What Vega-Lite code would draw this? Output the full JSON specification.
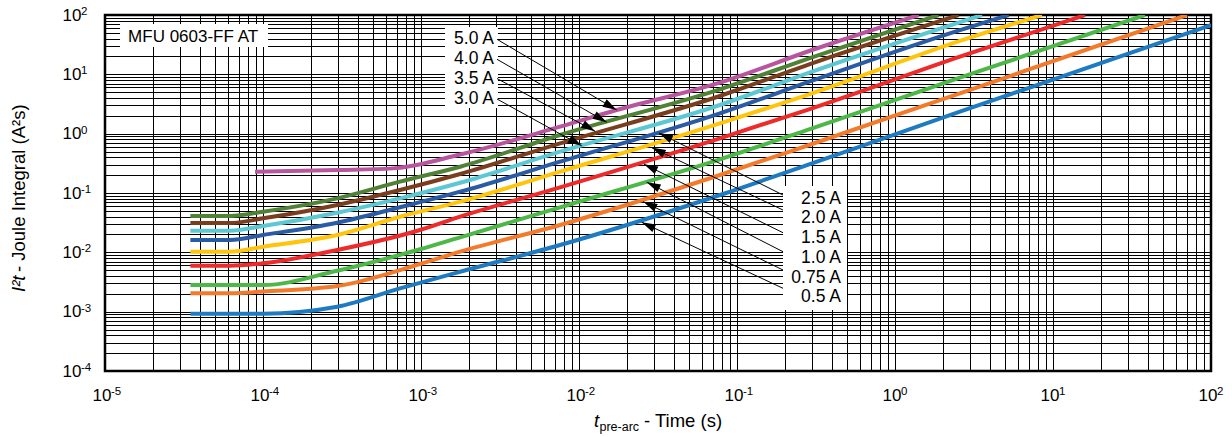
{
  "$schema": "https://vega.github.io/schema/vega-lite/v6.json",
  "width": 1106,
  "height": 356,
  "autosize": {"type": "none"},
  "padding": {"left": 105, "top": 15, "right": 21, "bottom": 66},
  "background": "#ffffff",
  "config": {"view": {"stroke": "#000000", "strokeWidth": 2.5}},
  "datasets": {
    "curves": [
      {"current": "0.5 A", "t": 3.47e-5, "v": 0.000925}, {"current": "0.5 A", "t": 1e-4, "v": 0.000925}, {"current": "0.5 A", "t": 2.95e-4, "v": 0.00121}, {"current": "0.5 A", "t": 7.36e-4, "v": 0.00247}, {"current": "0.5 A", "t": 0.00177, "v": 0.00471}, {"current": "0.5 A", "t": 0.00759, "v": 0.01327}, {"current": "0.5 A", "t": 0.078, "v": 0.0925}, {"current": "0.5 A", "t": 0.2985, "v": 0.316}, {"current": "0.5 A", "t": 2.576, "v": 2.344}, {"current": "0.5 A", "t": 100, "v": 67.6},
      {"current": "0.75 A", "t": 3.47e-5, "v": 0.00204}, {"current": "0.75 A", "t": 6.17e-5, "v": 0.00204}, {"current": "0.75 A", "t": 1e-4, "v": 0.00219}, {"current": "0.75 A", "t": 2.95e-4, "v": 0.0027}, {"current": "0.75 A", "t": 9.86e-4, "v": 0.00635}, {"current": "0.75 A", "t": 0.00177, "v": 0.01026}, {"current": "0.75 A", "t": 0.00759, "v": 0.0289}, {"current": "0.75 A", "t": 0.078, "v": 0.201}, {"current": "0.75 A", "t": 0.2985, "v": 0.67}, {"current": "0.75 A", "t": 2.576, "v": 4.79}, {"current": "0.75 A", "t": 70.5, "v": 100},
      {"current": "1.0 A", "t": 3.47e-5, "v": 0.00281}, {"current": "1.0 A", "t": 1e-4, "v": 0.00281}, {"current": "1.0 A", "t": 2.95e-4, "v": 0.0049}, {"current": "1.0 A", "t": 9.86e-4, "v": 0.01125}, {"current": "1.0 A", "t": 0.00177, "v": 0.0179}, {"current": "1.0 A", "t": 0.00759, "v": 0.0574}, {"current": "1.0 A", "t": 0.078, "v": 0.37}, {"current": "1.0 A", "t": 0.2985, "v": 1.23}, {"current": "1.0 A", "t": 2.576, "v": 8.77}, {"current": "1.0 A", "t": 38.2, "v": 100},
      {"current": "1.5 A", "t": 3.47e-5, "v": 0.00596}, {"current": "1.5 A", "t": 6.17e-5, "v": 0.00596}, {"current": "1.5 A", "t": 1e-4, "v": 0.00653}, {"current": "1.5 A", "t": 2.95e-4, "v": 0.01094}, {"current": "1.5 A", "t": 9.86e-4, "v": 0.02377}, {"current": "1.5 A", "t": 0.00177, "v": 0.0399}, {"current": "1.5 A", "t": 0.00759, "v": 0.1247}, {"current": "1.5 A", "t": 0.078, "v": 0.836}, {"current": "1.5 A", "t": 0.2985, "v": 2.67}, {"current": "1.5 A", "t": 2.576, "v": 19.86}, {"current": "1.5 A", "t": 15.96, "v": 100},
      {"current": "2.0 A", "t": 3.47e-5, "v": 0.01026}, {"current": "2.0 A", "t": 6.17e-5, "v": 0.01026}, {"current": "2.0 A", "t": 1e-4, "v": 0.01245}, {"current": "2.0 A", "t": 2.95e-4, "v": 0.0196}, {"current": "2.0 A", "t": 7.36e-4, "v": 0.0398}, {"current": "2.0 A", "t": 0.00177, "v": 0.0714}, {"current": "2.0 A", "t": 0.00759, "v": 0.2286}, {"current": "2.0 A", "t": 0.078, "v": 1.496}, {"current": "2.0 A", "t": 0.2985, "v": 4.79}, {"current": "2.0 A", "t": 2.576, "v": 36.5}, {"current": "2.0 A", "t": 8.51, "v": 100},
      {"current": "2.5 A", "t": 3.47e-5, "v": 0.01614}, {"current": "2.5 A", "t": 6.17e-5, "v": 0.01614}, {"current": "2.5 A", "t": 1e-4, "v": 0.0196}, {"current": "2.5 A", "t": 2.95e-4, "v": 0.0316}, {"current": "2.5 A", "t": 7.36e-4, "v": 0.0575}, {"current": "2.5 A", "t": 0.00177, "v": 0.1052}, {"current": "2.5 A", "t": 0.00759, "v": 0.337}, {"current": "2.5 A", "t": 0.078, "v": 2.203}, {"current": "2.5 A", "t": 0.2985, "v": 7.82}, {"current": "2.5 A", "t": 2.576, "v": 55.8}, {"current": "2.5 A", "t": 5.25, "v": 100},
      {"current": "3.0 A", "t": 3.47e-5, "v": 0.02317}, {"current": "3.0 A", "t": 6.17e-5, "v": 0.02317}, {"current": "3.0 A", "t": 1e-4, "v": 0.0278}, {"current": "3.0 A", "t": 2.95e-4, "v": 0.0466}, {"current": "3.0 A", "t": 7.36e-4, "v": 0.0813}, {"current": "3.0 A", "t": 0.00177, "v": 0.149}, {"current": "3.0 A", "t": 0.00759, "v": 0.4966}, {"current": "3.0 A", "t": 0.078, "v": 3.04}, {"current": "3.0 A", "t": 0.2985, "v": 11.09}, {"current": "3.0 A", "t": 3.556, "v": 100},
      {"current": "3.5 A", "t": 3.47e-5, "v": 0.0312}, {"current": "3.5 A", "t": 6.17e-5, "v": 0.0312}, {"current": "3.5 A", "t": 1e-4, "v": 0.0374}, {"current": "3.5 A", "t": 2.95e-4, "v": 0.0628}, {"current": "3.5 A", "t": 7.36e-4, "v": 0.1122}, {"current": "3.5 A", "t": 0.00177, "v": 0.209}, {"current": "3.5 A", "t": 0.00759, "v": 0.687}, {"current": "3.5 A", "t": 0.078, "v": 4.315}, {"current": "3.5 A", "t": 0.2985, "v": 15.35}, {"current": "3.5 A", "t": 2.53, "v": 100},
      {"current": "4.0 A", "t": 3.47e-5, "v": 0.0409}, {"current": "4.0 A", "t": 6.17e-5, "v": 0.0409}, {"current": "4.0 A", "t": 1e-4, "v": 0.0484}, {"current": "4.0 A", "t": 2.95e-4, "v": 0.0813}, {"current": "4.0 A", "t": 7.36e-4, "v": 0.1552}, {"current": "4.0 A", "t": 0.00177, "v": 0.2773}, {"current": "4.0 A", "t": 0.00759, "v": 0.9506}, {"current": "4.0 A", "t": 0.078, "v": 5.585}, {"current": "4.0 A", "t": 0.2985, "v": 19.36}, {"current": "4.0 A", "t": 1.888, "v": 100},
      {"current": "5.0 A", "t": 8.9e-5, "v": 0.2286}, {"current": "5.0 A", "t": 2.95e-4, "v": 0.2438}, {"current": "5.0 A", "t": 6.65e-4, "v": 0.26}, {"current": "5.0 A", "t": 0.00177, "v": 0.445}, {"current": "5.0 A", "t": 0.00759, "v": 1.312}, {"current": "5.0 A", "t": 0.0173, "v": 2.506}, {"current": "5.0 A", "t": 0.078, "v": 7.23}, {"current": "5.0 A", "t": 0.2985, "v": 25.7}, {"current": "5.0 A", "t": 1.413, "v": 100}
    ],
    "boxes": [
      {"t": 1.245e-5, "t2": 1.076e-4, "v": 70.5, "v2": 28.9},
      {"t": 0.001419, "t2": 0.00307, "v": 62.8, "v2": 2.708},
      {"t": 0.1955, "t2": 0.4968, "v": 0.1312, "v2": 0.001067}
    ],
    "leftArrows": [
      {"label": "5.0 A", "t": 0.003027, "v": 38.95, "t2": 0.01732, "v2": 2.506},
      {"label": "4.0 A", "t": 0.003027, "v": 17.92, "t2": 0.01497, "v2": 1.561},
      {"label": "3.5 A", "t": 0.003027, "v": 8.505, "t2": 0.01263, "v2": 1.1005},
      {"label": "3.0 A", "t": 0.003027, "v": 3.84, "t2": 0.0104, "v2": 0.6245}
    ],
    "rightArrows": [
      {"label": "2.5 A", "t": 0.1955, "v": 0.09253, "t2": 0.03209, "v2": 1.026},
      {"label": "2.0 A", "t": 0.1955, "v": 0.05169, "t2": 0.02884, "v2": 0.5823},
      {"label": "1.5 A", "t": 0.1955, "v": 0.02142, "t2": 0.02578, "v2": 0.3058},
      {"label": "1.0 A", "t": 0.1955, "v": 0.01025, "t2": 0.02683, "v2": 0.1521},
      {"label": "0.75 A", "t": 0.1955, "v": 0.005038, "t2": 0.02553, "v2": 0.07134},
      {"label": "0.5 A", "t": 0.1955, "v": 0.002476, "t2": 0.02493, "v2": 0.03219}
    ],
    "leftLabels": [
      {"label": "5.0 A", "t": 0.002897, "v": 39.4},
      {"label": "4.0 A", "t": 0.002897, "v": 18.13},
      {"label": "3.5 A", "t": 0.002897, "v": 8.505},
      {"label": "3.0 A", "t": 0.002897, "v": 3.84}
    ],
    "rightLabels": [
      {"label": "2.5 A", "t": 0.455, "v": 0.07923},
      {"label": "2.0 A", "t": 0.455, "v": 0.03747},
      {"label": "1.5 A", "t": 0.455, "v": 0.01744},
      {"label": "1.0 A", "t": 0.455, "v": 0.00809},
      {"label": "0.75 A", "t": 0.455, "v": 0.003765},
      {"label": "0.5 A", "t": 0.455, "v": 0.001767}
    ],
    "xDecades": [
      {"t": 0.00001, "v": 3.94e-5, "exp": "-5"}, {"t": 0.0001, "v": 3.94e-5, "exp": "-4"}, {"t": 0.001, "v": 3.94e-5, "exp": "-3"}, {"t": 0.01, "v": 3.94e-5, "exp": "-2"},
      {"t": 0.1, "v": 3.94e-5, "exp": "-1"}, {"t": 1, "v": 3.94e-5, "exp": "0"}, {"t": 10, "v": 3.94e-5, "exp": "1"}, {"t": 100, "v": 3.94e-5, "exp": "2"}
    ],
    "yDecades": [
      {"t": 7.05e-6, "v": 0.0001, "exp": "-4"}, {"t": 7.05e-6, "v": 0.001, "exp": "-3"}, {"t": 7.05e-6, "v": 0.01, "exp": "-2"}, {"t": 7.05e-6, "v": 0.1, "exp": "-1"},
      {"t": 7.05e-6, "v": 1, "exp": "0"}, {"t": 7.05e-6, "v": 10, "exp": "1"}, {"t": 7.05e-6, "v": 100, "exp": "2"}
    ],
    "part": [{"label": "MFU 0603-FF AT", "t": 1.4e-5, "v": 42.5}],
    "xTitleT": [{"label": "t", "t": 0.012445, "v": 1.138e-5}],
    "xTitleSub": [{"label": "pre-arc", "t": 0.013478, "v": 9.745e-6}],
    "xTitleRest": [{"label": "- Time (s)", "t": 0.02578, "v": 1.138e-5}],
    "yTitleA": [{"label": "I²t", "t": 3.117e-6, "v": 0.002145}],
    "yTitleB": [{"label": "- Joule Integral (A²s)", "t": 3.117e-6, "v": 0.00466}]
  },
  "encoding": {
    "x": {
      "field": "t", "type": "quantitative",
      "scale": {"type": "log", "domain": [0.00001, 100], "nice": false},
      "axis": {
        "values": [0.00001,0.00002,0.00003,0.00004,0.00005,0.00006,0.00007,0.00008,0.00009,0.0001,0.0002,0.0003,0.0004,0.0005,0.0006,0.0007,0.0008,0.0009,0.001,0.002,0.003,0.004,0.005,0.006,0.007,0.008,0.009,0.01,0.02,0.03,0.04,0.05,0.06,0.07,0.08,0.09,0.1,0.2,0.3,0.4,0.5,0.6,0.7,0.8,0.9,1,2,3,4,5,6,7,8,9,10,20,30,40,50,60,70,80,90,100],
        "labelExpr": "abs(log(datum.value)/LN10 - round(log(datum.value)/LN10)) < 0.001 ? '10' : ''",
        "labelOverlap": false, "labelFlush": false, "labelBound": false,
        "labelAlign": "right", "labelOffset": 6, "labelBaseline": "alphabetic",
        "ticks": false, "tickSize": 0, "domain": false,
        "grid": true, "gridColor": "#000000", "gridOpacity": 1, "gridWidth": 1,
        "labelFont": "Liberation Sans", "labelFontSize": 17, "labelColor": "#000000",
        "labelPadding": 29, "title": null
      }
    },
    "y": {
      "field": "v", "type": "quantitative",
      "scale": {"type": "log", "domain": [0.0001, 100], "nice": false},
      "axis": {
        "values": [0.0001,0.0002,0.0003,0.0004,0.0005,0.0006,0.0007,0.0008,0.0009,0.001,0.002,0.003,0.004,0.005,0.006,0.007,0.008,0.009,0.01,0.02,0.03,0.04,0.05,0.06,0.07,0.08,0.09,0.1,0.2,0.3,0.4,0.5,0.6,0.7,0.8,0.9,1,2,3,4,5,6,7,8,9,10,20,30,40,50,60,70,80,90,100],
        "labelExpr": "abs(log(datum.value)/LN10 - round(log(datum.value)/LN10)) < 0.001 ? '10' : ''",
        "labelOverlap": false, "labelFlush": false, "labelBound": false,
        "labelAlign": "right", "labelBaseline": "middle",
        "ticks": false, "tickSize": 0, "domain": false,
        "grid": true, "gridColor": "#000000", "gridOpacity": 1, "gridWidth": 1,
        "labelFont": "Liberation Sans", "labelFontSize": 17, "labelColor": "#000000",
        "labelPadding": 24, "title": null
      }
    }
  },
  "layer": [
    {
      "data": {"name": "curves"},
      "mark": {"type": "line", "strokeWidth": 4, "interpolate": "monotone", "clip": true, "strokeCap": "butt"},
      "encoding": {
        "color": {
          "field": "current", "type": "nominal",
          "scale": {
            "domain": ["0.5 A", "0.75 A", "1.0 A", "1.5 A", "2.0 A", "2.5 A", "3.0 A", "3.5 A", "4.0 A", "5.0 A"],
            "range": ["#1F7BC1", "#F37A2B", "#4DB848", "#EE2A2A", "#FFC40C", "#2A5BA5", "#5CC8D4", "#7A3E1E", "#4F8235", "#B9559E"]
          },
          "legend": null
        }
      }
    },
    {
      "data": {"name": "boxes"},
      "mark": {"type": "rect", "fill": "#ffffff", "stroke": null},
      "encoding": {"x2": {"field": "t2"}, "y2": {"field": "v2"}}
    },
    {
      "data": {"name": "leftArrows"},
      "mark": {"type": "rule", "color": "#000000", "strokeWidth": 1},
      "encoding": {"x2": {"field": "t2"}, "y2": {"field": "v2"}}
    },
    {
      "data": {"name": "rightArrows"},
      "mark": {"type": "rule", "color": "#000000", "strokeWidth": 1},
      "encoding": {"x2": {"field": "t2"}, "y2": {"field": "v2"}}
    },
    {
      "data": {"name": "leftArrows"},
      "mark": {"type": "point", "shape": "M0,0L-0.6,2L0.6,2Z", "size": 196, "filled": true, "color": "#000000", "opacity": 1, "angle": 120},
      "encoding": {"x": {"field": "t2", "type": "quantitative"}, "y": {"field": "v2", "type": "quantitative"}}
    },
    {
      "data": {"name": "rightArrows"},
      "mark": {"type": "point", "shape": "M0,0L-0.6,2L0.6,2Z", "size": 196, "filled": true, "color": "#000000", "opacity": 1, "angle": 296},
      "encoding": {"x": {"field": "t2", "type": "quantitative"}, "y": {"field": "v2", "type": "quantitative"}}
    },
    {
      "data": {"name": "leftLabels"},
      "mark": {"type": "text", "align": "right", "baseline": "middle", "font": "Liberation Sans", "fontSize": 17.5, "color": "#000000"},
      "encoding": {"text": {"field": "label"}}
    },
    {
      "data": {"name": "rightLabels"},
      "mark": {"type": "text", "align": "right", "baseline": "middle", "font": "Liberation Sans", "fontSize": 17.5, "color": "#000000"},
      "encoding": {"text": {"field": "label"}}
    },
    {
      "data": {"name": "part"},
      "mark": {"type": "text", "align": "left", "baseline": "middle", "font": "Liberation Sans", "fontSize": 17, "color": "#000000"},
      "encoding": {"text": {"field": "label"}}
    },
    {
      "data": {"name": "xDecades"},
      "mark": {"type": "text", "align": "left", "baseline": "alphabetic", "dx": 6, "font": "Liberation Sans", "fontSize": 11.5, "color": "#000000"},
      "encoding": {"text": {"field": "exp"}}
    },
    {
      "data": {"name": "yDecades"},
      "mark": {"type": "text", "align": "left", "baseline": "alphabetic", "font": "Liberation Sans", "fontSize": 11.5, "color": "#000000"},
      "encoding": {"text": {"field": "exp"}}
    },
    {
      "data": {"name": "xTitleT"},
      "mark": {"type": "text", "align": "left", "baseline": "alphabetic", "font": "Liberation Sans", "fontSize": 18.5, "fontStyle": "italic", "color": "#000000"},
      "encoding": {"text": {"field": "label"}}
    },
    {
      "data": {"name": "xTitleSub"},
      "mark": {"type": "text", "align": "left", "baseline": "alphabetic", "font": "Liberation Sans", "fontSize": 12.5, "color": "#000000"},
      "encoding": {"text": {"field": "label"}}
    },
    {
      "data": {"name": "xTitleRest"},
      "mark": {"type": "text", "align": "left", "baseline": "alphabetic", "font": "Liberation Sans", "fontSize": 18.5, "color": "#000000"},
      "encoding": {"text": {"field": "label"}}
    },
    {
      "data": {"name": "yTitleA"},
      "mark": {"type": "text", "align": "left", "baseline": "alphabetic", "angle": 270, "font": "Liberation Sans", "fontSize": 18.5, "fontStyle": "italic", "color": "#000000"},
      "encoding": {"text": {"field": "label"}}
    },
    {
      "data": {"name": "yTitleB"},
      "mark": {"type": "text", "align": "left", "baseline": "alphabetic", "angle": 270, "font": "Liberation Sans", "fontSize": 18.5, "color": "#000000"},
      "encoding": {"text": {"field": "label"}}
    }
  ]
}
